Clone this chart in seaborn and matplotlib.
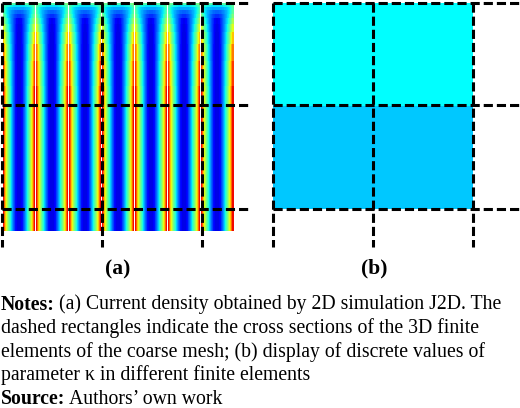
import numpy as np
import pandas as pd
import seaborn as sns
import matplotlib
matplotlib.use("Agg")
import matplotlib.pyplot as plt
from matplotlib.colors import ListedColormap

W, H = 520, 408

# half-period current density profiles (boundary -> centre), top of the domain first
profile_rows = [
    [1.1, .50, .49, .48, .47, .46, .46, .45, .45, .45, .45, .44, .44, .44, .44, .44, .44],
    [1.1, .46, .44, .42, .40, .39, .38, .37, .37, .36, .36, .35, .35, .35, .35, .35, .35],
    [1.1, .44, .41, .38, .36, .35, .33, .32, .31, .31, .30, .30, .29, .29, .29, .29, .29],
    [1.1, .46, .42, .39, .36, .34, .32, .30, .29, .27, .26, .25, .24, .23, .23, .22, .22],
    [1.1, .50, .46, .42, .38, .35, .33, .30, .28, .26, .24, .22, .20, .19, .18, .17, .17],
    [1.1, .55, .50, .46, .41, .38, .35, .32, .29, .26, .24, .21, .18, .16, .13, .11, .10],
    [1.1, .62, .57, .52, .46, .42, .38, .34, .31, .27, .24, .21, .18, .15, .11, .10, .09],
    [1.1, .70, .64, .58, .51, .46, .42, .37, .33, .29, .25, .22, .18, .15, .11, .09, .09],
    [1.1, .78, .72, .64, .56, .50, .45, .40, .35, .31, .26, .22, .18, .14, .11, .09, .09],
    [1.1, .85, .76, .67, .60, .53, .47, .42, .37, .32, .27, .23, .19, .14, .11, .09, .09],
    [1.1, .90, .80, .70, .62, .55, .49, .44, .39, .33, .28, .23, .19, .14, .11, .09, .09],
]
row_repeats = [2, 2, 3, 4, 4, 6, 8, 12, 17, 25, 145]
n_periods = 7

# discrete values of kappa in the finite elements
kappa_values = [[1, 1], [0, 0]]
kappa_colors = ["#00C8FF", "#00FFFF"]

notes_lines = [
    "dashed rectangles indicate the cross sections of the 3D finite",
    "elements of the coarse mesh; (b) display of discrete values of",
    "parameter \u03ba in different finite elements",
]

sns.set_theme(style="white")
plt.rcParams["font.family"] = ["Liberation Serif", "DejaVu Serif"]
plt.rcParams["text.color"] = "black"


def px_axes(fig, x0, y0, x1, y1):
    return fig.add_axes([x0 / W, 1 - y1 / H, (x1 - x0) / W, (y1 - y0) / H])


fig = plt.figure(figsize=(W / 100, H / 100), dpi=100, facecolor="white")

# panel (a): jet up to 1.0, white above it; one cell per pixel
half = np.array(profile_rows)
period = np.hstack([half, half[:, :0:-1]])
field = np.hstack([np.tile(period, (1, n_periods)), half[:, 1:2]])
field = np.repeat(field, row_repeats, axis=0)
jet_colors = plt.get_cmap("jet")(np.linspace(0, 1, 256))
white_top = np.ones((26, 4))
jet_white = ListedColormap(np.vstack([jet_colors, white_top]))
ax_a = px_axes(fig, 2, 3, 2 + field.shape[1], 3 + field.shape[0])
sns.heatmap(pd.DataFrame(field), ax=ax_a, cmap=jet_white, vmin=0, vmax=1.1, cbar=False,
            xticklabels=False, yticklabels=False, linewidths=0, edgecolor="none")
ax_a.collections[0].set_snap(False)

# panel (b)
ax_b = px_axes(fig, 273, 3, 473, 209)
sns.heatmap(pd.DataFrame(kappa_values), ax=ax_b, cmap=ListedColormap(kappa_colors),
            vmin=0, vmax=1, cbar=False, xticklabels=False, yticklabels=False)

# overlay in pixel coordinates
ov = fig.add_axes([0, 0, 1, 1], facecolor="none")
ov.set_xlim(0, W)
ov.set_ylim(H, 0)
ov.axis("off")

dash = dict(color="black", linewidth=2.2, linestyle=(0, (3.0, 1.3)),
            dash_capstyle="butt")
for xs, xend in (((2, 101.5, 201.5), 248), ((273, 373, 473), 520)):
    for y in (2.5, 105, 209):
        ov.plot([xs[0], xend], [y, y], **dash)
    for x in xs:
        ov.plot([x, x], [2.5, 247], **dash)

ov.text(118, 269, "(a)", fontsize=15.5, fontweight="bold", ha="center", va="center")
ov.text(374, 268, "(b)", fontsize=15.5, fontweight="bold", ha="center", va="center")

FS = 14.2
renderer = fig.canvas.get_renderer()


def mixed(y, bold, rest):
    t = ov.text(1, y, bold, fontsize=FS, fontweight="bold", ha="left", va="baseline")
    x = t.get_window_extent(renderer).x1 + 4
    ov.text(x, y, rest, fontsize=FS, ha="left", va="baseline")


mixed(309.5, "Notes:", "(a) Current density obtained by 2D simulation J2D. The")
for y, line in zip((333, 356.5, 380), notes_lines):
    ov.text(1, y, line, fontsize=FS, ha="left", va="baseline")
mixed(403.5, "Source:", "Authors\u2019 own work")

fig.savefig("out.png", dpi=100, facecolor="white")
